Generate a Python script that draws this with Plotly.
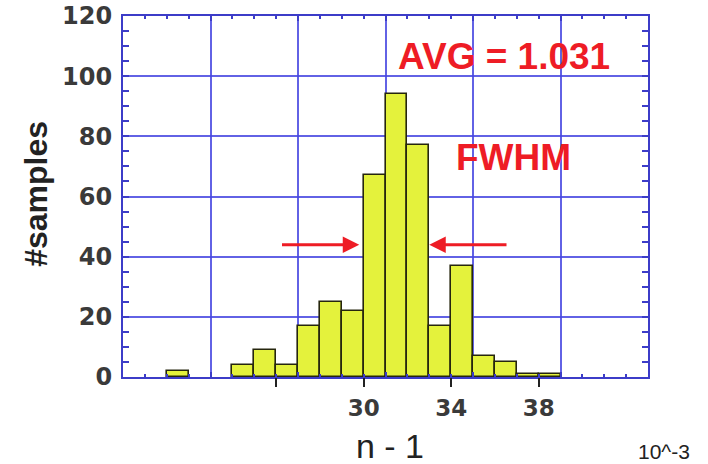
import plotly.graph_objects as go

# histogram of (n - 1) in units of 10^-3, bins one unit wide (empty bins left out)
bin_lo = [21, 24, 25, 26, 27, 28, 29, 30, 31, 32, 33, 34, 35, 36, 37, 38]
counts = [2, 4, 9, 4, 17, 25, 22, 67, 94, 77, 17, 37, 7, 5, 1, 1]

x_ticks = [26, 30, 34, 38]
x_tick_text = ["", "30", "34", "38"]

avg_text = "AVG = 1.031"
fwhm_lo, fwhm_hi, fwhm_y = 29.8, 33.0, 44
arrow_tail_lo, arrow_tail_hi = 26.2, 36.6

GRID = "rgba(70,70,225,0.85)"
FRAME = "#3c3cc8"
RED = "#ee1c25"
TICKFONT = dict(family="DejaVu Sans", size=24, color="#3a3a3a", weight="bold")

fig = go.Figure()
fig.add_trace(
    go.Bar(
        x=bin_lo,
        y=counts,
        width=1,
        offset=0,
        marker=dict(color="#e4f23c", line=dict(color="#26260e", width=1.6)),
        showlegend=False,
        hoverinfo="x+y",
    )
)
# empty trace so the labelled bottom axis gets drawn
fig.add_trace(go.Scatter(x=[], y=[], xaxis="x2", yaxis="y", showlegend=False, hoverinfo="skip"))

# FWHM arrows
for head, tail in [(fwhm_lo, arrow_tail_lo), (fwhm_hi, arrow_tail_hi)]:
    fig.add_annotation(
        x=head, y=fwhm_y, ax=tail, ay=fwhm_y,
        xref="x", yref="y", axref="x", ayref="y",
        text="", showarrow=True,
        arrowhead=2, arrowsize=1.1, arrowwidth=3, arrowcolor=RED, standoff=0,
    )

big_red = dict(family="Liberation Sans", size=37, color=RED, weight="bold")
fig.add_annotation(x=36.4, y=106.7, xref="x", yref="y", text=avg_text,
                   showarrow=False, font=big_red)
fig.add_annotation(x=36.85, y=73, xref="x", yref="y", text="FWHM",
                   showarrow=False, font=big_red)

# axis titles and the scale note
fig.add_annotation(
    x=0.509, y=-0.19, xref="paper", yref="paper", text="n - 1", showarrow=False,
    xanchor="center", yanchor="middle",
    font=dict(family="Liberation Sans", size=34, color="#222"),
)
fig.add_annotation(
    x=-0.166, y=0.507, xref="paper", yref="paper", text="#samples", showarrow=False,
    textangle=-90, xanchor="center", yanchor="middle",
    font=dict(family="Liberation Sans", size=32, color="#222", weight="bold"),
)
fig.add_annotation(
    x=1.03, y=-0.205, xref="paper", yref="paper", text="10^-3", showarrow=False,
    xanchor="center", yanchor="middle",
    font=dict(family="Liberation Sans", size=21, color="#222"),
)

fig.update_layout(
    width=708,
    height=464,
    margin=dict(l=123, r=60, t=16, b=87),
    paper_bgcolor="white",
    plot_bgcolor="white",
    bargap=0,
    xaxis=dict(
        range=[19, 43], automargin=False,
        tick0=19, dtick=4,
        showgrid=True, gridcolor=GRID, gridwidth=1.5,
        showline=True, linecolor=FRAME, linewidth=2, mirror="allticks",
        ticks="inside", ticklen=5, tickcolor=FRAME, tickwidth=1.5,
        minor=dict(ticks="inside", tick0=19, dtick=1, ticklen=3, tickcolor=FRAME, showgrid=False),
        showticklabels=False, zeroline=False,
    ),
    xaxis2=dict(
        overlaying="x", anchor="y", side="bottom",
        range=[19, 43], automargin=False,
        tickmode="array", tickvals=x_ticks, ticktext=x_tick_text,
        ticks="outside", ticklen=9, tickwidth=2, tickcolor="#222",
        showgrid=False, showline=False, zeroline=False,
        tickfont=dict(family="DejaVu Sans", size=23, color="#3a3a3a", weight="bold"),
        ticklabelstandoff=1,
    ),
    yaxis=dict(
        range=[0, 120], automargin=False,
        tick0=0, dtick=20,
        showgrid=True, gridcolor=GRID, gridwidth=1.5,
        showline=True, linecolor=FRAME, linewidth=2, mirror="allticks",
        ticks="inside", ticklen=6, tickcolor=FRAME, tickwidth=1.5,
        minor=dict(ticks="inside", dtick=5, ticklen=4, tickcolor=FRAME, showgrid=False),
        tickfont=TICKFONT, ticklabelstandoff=4, zeroline=False,
        ticklabeloverflow="allow",
    ),
)

# drop the default 8px body margin so the figure sits flush with the window
fig.write_html(
    "out.html",
    config={"displayModeBar": False},
    post_script="document.body.style.margin = '0';",
)
